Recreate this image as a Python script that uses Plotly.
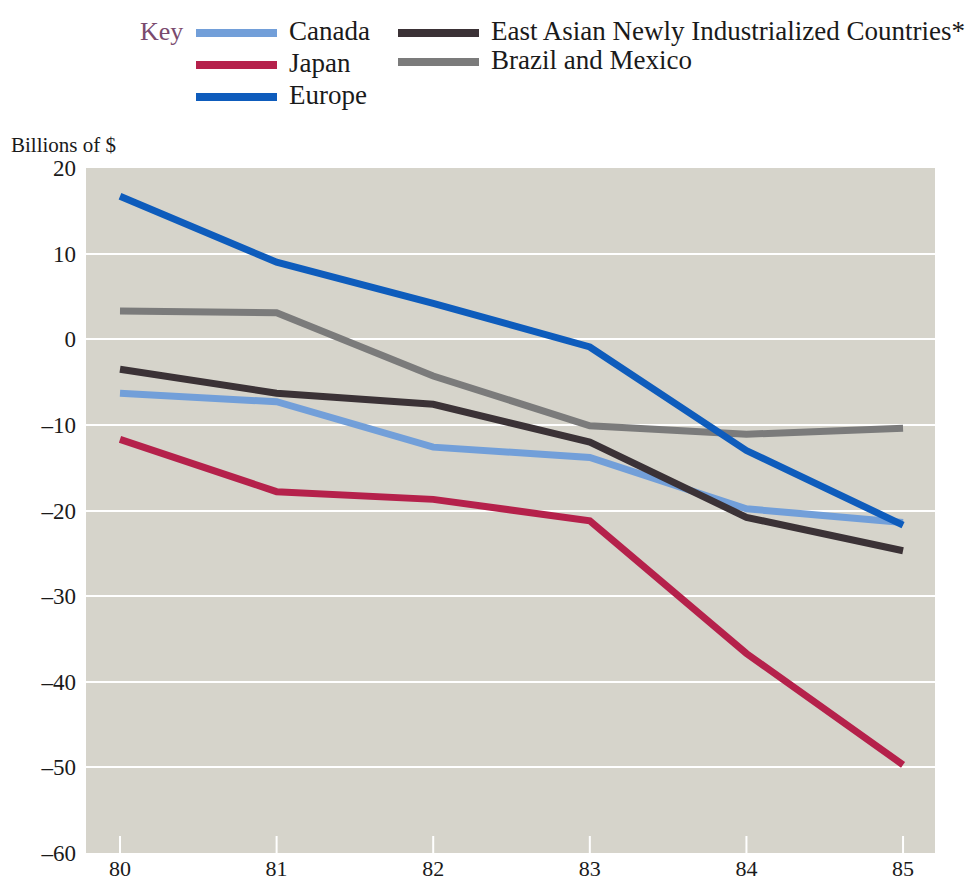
import plotly.graph_objects as go

years = [80, 81, 82, 83, 84, 85]
tick_labels = ["80", "81", "82", "83", "84", "85"]
y_ticks = [20, 10, 0, -10, -20, -30, -40, -50, -60]

canada = [-6.3, -7.3, -12.6, -13.8, -19.8, -21.4]
japan = [-11.7, -17.8, -18.7, -21.2, -36.7, -49.7]
europe = [16.7, 9.0, 4.2, -0.9, -13.0, -21.7]
east_asia = [-3.5, -6.3, -7.6, -12.0, -20.8, -24.7]
brazil_mexico = [3.3, 3.1, -4.3, -10.1, -11.1, -10.4]

names = ["Canada", "Japan", "Europe",
         "East Asian Newly Industrialized Countries*", "Brazil and Mexico"]
colors = {"Canada": "#729fd9", "Japan": "#b5214b", "Europe": "#0e5cbc",
          "East Asian Newly Industrialized Countries*": "#3b3236",
          "Brazil and Mexico": "#7b7b7b"}
series = {"Canada": canada, "Japan": japan, "Europe": europe,
          "East Asian Newly Industrialized Countries*": east_asia,
          "Brazil and Mexico": brazil_mexico}
draw_order = ["Brazil and Mexico", "Japan", "Canada",
              "East Asian Newly Industrialized Countries*", "Europe"]

FONT = "Liberation Serif"

fig = go.Figure()
for n in draw_order:
    fig.add_trace(go.Scatter(x=years, y=series[n], mode="lines", name=n,
                             line=dict(color=colors[n], width=7),
                             showlegend=False))

W, H = 978, 882
ml, mr, mt, mb = 86, 43, 168, 29
PW, PH = W - ml - mr, H - mt - mb

def px(x):
    return (x - ml) / PW

def py(y):
    return (H - mb - y) / PH

shapes = []
annotations = []
# custom key
annotations.append(dict(x=px(185), y=py(31), xref="paper", yref="paper",
                        text="Key", showarrow=False, xanchor="right",
                        yanchor="middle",
                        font=dict(family=FONT, size=26, color="#7a4a6e")))
legend_pos = [("Canada", 196, 31), ("Japan", 196, 63), ("Europe", 196, 95),
              ("East Asian Newly Industrialized Countries*", 398, 31),
              ("Brazil and Mexico", 398, 60)]
for n, x0, yy in legend_pos:
    shapes.append(dict(type="line", xref="paper", yref="paper",
                       x0=px(x0), x1=px(x0 + 81), y0=py(yy + 2), y1=py(yy + 2),
                       line=dict(color=colors[n], width=8)))
    annotations.append(dict(x=px(x0 + 91), y=py(yy), xref="paper", yref="paper",
                            text=n, showarrow=False, xanchor="left",
                            yanchor="middle",
                            font=dict(family=FONT, size=27, color="#1a1a1a")))
annotations.append(dict(x=px(9), y=py(145), xref="paper", yref="paper",
                        text="Billions of $", showarrow=False, xanchor="left",
                        yanchor="middle",
                        font=dict(family=FONT, size=21, color="#1a1a1a")))
# white inward tick marks on x axis
for yr in years:
    shapes.append(dict(type="line", xref="x", yref="paper", x0=yr, x1=yr,
                       y0=0, y1=17 / PH,
                       line=dict(color="white", width=2)))

fig.update_layout(
    width=W, height=H,
    margin=dict(l=ml, r=mr, t=mt, b=mb, autoexpand=False),
    paper_bgcolor="white",
    plot_bgcolor="#d6d4cb",
    shapes=shapes,
    annotations=annotations,
    xaxis=dict(range=[79.783, 85.204], tickvals=years, ticktext=tick_labels,
               showgrid=False, zeroline=False, ticks="", showline=False,
               ticklabelstandoff=0, automargin=False,
               tickfont=dict(family=FONT, size=22, color="#1a1a1a")),
    yaxis=dict(range=[-60, 20], tickvals=y_ticks,
               ticktext=[str(v).replace("-", "–") for v in y_ticks],
               showgrid=True, gridcolor="white", gridwidth=2, automargin=False,
               zeroline=False, ticks="", showline=False, ticklabelstandoff=9,
               tickfont=dict(family=FONT, size=23, color="#1a1a1a")),
)

fig.write_html("out.html")
